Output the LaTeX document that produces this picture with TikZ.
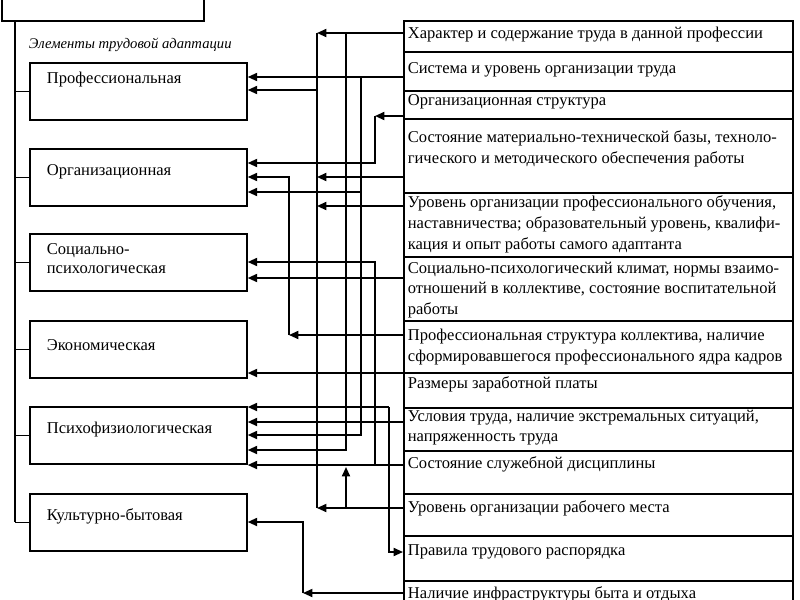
\documentclass[tikz,border=0pt]{standalone}
\usepackage{fontspec}
\setmainfont{Liberation Serif}
\usetikzlibrary{arrows.meta}
\begin{document}
\begin{tikzpicture}[x=0.75pt,y=-0.75pt,
  line width=1.3pt,
  box/.style={draw,rectangle,inner sep=0pt,anchor=north west},
  rtext/.style={anchor=north west,inner sep=0pt,align=left,font=\fontsize{12.4}{15.5}\selectfont},
  ltext/.style={anchor=west,inner sep=0pt,align=left,font=\fontsize{12.4}{14.2}\selectfont},
  arr/.style={-{Triangle[length=7pt,width=6pt]}}]
\useasboundingbox (0,0) rectangle (800,600);
\clip (0,0) rectangle (800,600);
% top box (cut off)
\node[box,minimum width=202*0.75pt,minimum height=30*0.75pt] (top) at (1,-10) {};
\node[anchor=west,inner sep=0pt,font=\itshape\fontsize{11}{13}\selectfont] (cap) at (28,45) {Элементы трудовой адаптации};
% left boxes
\foreach \n/\t in {L1/62,L2/148,L3/233,L4/320,L5/406,L6/493}
  \node[box,minimum width=217*0.75pt,minimum height=57*0.75pt] (\n) at (29,\t) {};
\node[ltext] (t1) at (46,80) {Профессиональная};
\node[ltext] (t2) at (46,172) {Организационная};
\node[ltext] (t3) at (46,259) {Социально-\\психологическая};
\node[ltext] (t4) at (46,345) {Экономическая};
\node[ltext] (t5) at (46,430) {Психофизиологическая};
\node[ltext] (t6) at (46,516) {Культурно-бытовая};
% spine
\draw (top.south -| 15,0) coordinate (sp0) -- (15,522) coordinate (sp1);
\foreach \n in {L1,L2,L3,L4,L5,L6} \draw (\n.west) -- (\n.west -| sp0);
% right rows
\foreach \n/\a/\b in {r1/20/31,r2/51/39,r3/90/28,r4/118/74,r5/192/64,r6/256/64,r7/320/52,r8/372/35,r9/407/43,r10/450/43,r11/493/42,r12/535/45,r13/580/40}
  \node[box,minimum width=389*0.75pt,minimum height=\b*0.75pt] (\n) at (403,\a) {};
\node[rtext] (x1) at (407,26) {Характер и содержание труда в данной профессии};
\node[rtext] (x2) at (407,62) {Система и уровень организации труда};
\node[rtext] (x3) at (407,94) {Организационная структура};
\node[rtext] (x4) at (407,130) {Состояние материально-технической базы, техноло-\\гического и методического обеспечения работы};
\node[rtext] (x5) at (407,195) {Уровень организации профессионального обучения,\\наставничества; образовательный уровень, квалифи-\\кация и опыт работы самого адаптанта};
\node[rtext] (x6) at (407,261) {Социально-психологический климат, нормы взаимо-\\отношений в коллективе, состояние воспитательной\\работы};
\node[rtext] (x7) at (407,328) {Профессиональная структура коллектива, наличие\\сформировавшегося профессионального ядра кадров};
\node[rtext] (x8) at (407,376) {Размеры заработной платы};
\node[rtext] (x9) at (407,409) {Условия труда, наличие экстремальных ситуаций,\\напряженность труда};
\node[rtext] (x10) at (407,456) {Состояние служебной дисциплины};
\node[rtext] (x11) at (407,500) {Уровень организации рабочего места};
\node[rtext] (x12) at (407,544) {Правила трудового распорядка};
\node[rtext] (x13) at (407,586) {Наличие инфраструктуры быта и отдыха};
% junction coordinates
\coordinate (a1) at (317,33);  \coordinate (a2) at (317,508);
\coordinate (b1) at (346,33);  \coordinate (b2) at (346,508);
\coordinate (c1) at (361,77);
\coordinate (d1) at (375,116); \coordinate (e1) at (375,465);
\coordinate (f1) at (289,335); \coordinate (g1) at (389,407);
\coordinate (h1) at (303,593);
% connectors
\draw[arr] (r1.west |- a1) -- (a1);
\draw (a1) -- (a2);
\draw[arr] (317,90) -- (L1.east |- 0,90);
\draw[arr] (r2.west |- c1) -- (L1.east |- c1);
\draw[arr] (r3.west |- d1) -- (d1);
\draw[arr] (d1) -- (375,163) -- (L2.east |- 0,163);
\draw[arr] (r4.west |- 0,177) -- (317,177);
\draw[arr] (r7.west |- f1) -- (f1);
\draw[arr] (f1) -- (289,177) -- (L2.east |- 0,177);
\draw[arr] (c1) -- (361,435) -- (L5.east |- 0,435);
\draw[arr] (361,192) -- (L2.east |- 0,192);
\draw[arr] (r5.west |- 0,206) -- (317,206);
\draw[arr] (e1) -- (375,262) -- (L3.east |- 0,262);
\draw[arr] (r6.west |- 0,278) -- (L3.east |- 0,278);
\draw[arr] (r8.west |- 0,373) -- (L4.east |- 0,373);
\draw[arr] (g1) -- (L5.east |- g1);
\draw[arr] (g1) -- (389,552) -- (r12.west |- 0,552);
\draw[arr] (r9.west |- 0,422) -- (L5.east |- 0,422);
\draw[arr] (b1) -- (346,450) -- (L5.east |- 0,450);
\draw[arr] (r10.west |- e1) -- (L5.east |- e1);
\draw[arr] (r11.west |- a2) -- (a2);
\draw[arr] (b2) -- (346,467);
\draw[arr] (r13.west |- h1) -- (h1);
\draw[arr] (h1) -- (303,522) -- (L6.east |- 0,522);
\end{tikzpicture}
\end{document}
